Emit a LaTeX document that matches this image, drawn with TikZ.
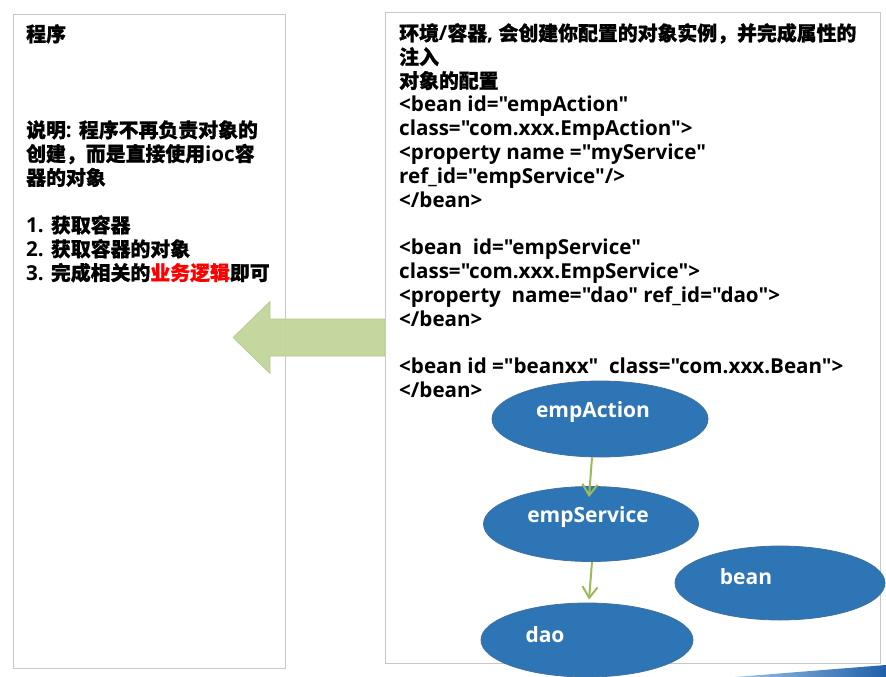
\documentclass[tikz,border=0pt]{standalone}
\usepackage{fontspec}
\setmainfont{Open Sans}[Ligatures=TeXOff]
\newfontfamily\cjkfont{Noto Sans CJK SC}[Scale=0.965, FakeBold=0.9]
\newcommand{\zh}[1]{{\cjkfont #1}}
\usetikzlibrary{shapes,arrows,positioning,calc,arrows.meta}

\definecolor{beanblue}{HTML}{2E75B6}
\definecolor{beanedge}{HTML}{41719C}
\definecolor{flowgreen}{HTML}{9BBB59}
\definecolor{bigarrow}{HTML}{C4D79F}
\definecolor{bigarrowedge}{HTML}{B3C98C}
\definecolor{boxgray}{HTML}{C8C8C8}
\definecolor{stripdark}{HTML}{1F5FA8}
\definecolor{striplight}{HTML}{9DC3E6}

\begin{document}
\begin{tikzpicture}[x=1pt,y=-1pt,
  panel/.style={draw=boxgray, line width=1pt, inner sep=0pt, anchor=north west},
  txt/.style={font=\bfseries\fontsize{20.6}{23.8}\selectfont, align=left, inner sep=0pt, anchor=north west},
  bean/.style={ellipse, fill=beanblue, draw=beanedge, line width=0.8pt, inner sep=0pt},
  beantext/.style={text=white, font=\bfseries\fontsize{21}{24}\selectfont, inner sep=0pt},
  flow/.style={draw=flowgreen, line width=2pt, -{Straight Barb[length=11pt,width=15pt]}}]
  \useasboundingbox (0,0) rectangle (886,677);

  % block arrow, container -> program
  \coordinate (mid) at (385,337.5);
  \filldraw[fill=bigarrow, draw=bigarrowedge, line width=0.6pt]
    (mid) ++(0,-18.5) -- ++(-115,0) -- ++(0,-17.5) -- ++(-37,36)
    -- ++(37,36) -- ++(0,-17.5) -- ++(115,0) -- cycle;

  % the two panels
  \node[panel, minimum width=272pt, minimum height=654pt] (prog) at (13,14) {};
  \node[panel, minimum width=495pt, minimum height=651pt] (ctr) at (385,12) {};

  % program side
  \node[txt] (ptitle) at (26,24) {\zh{程序}};
  \node[txt] (steps) at (26,120) {\zh{说明}: \zh{程序不再负责对象的}\\
    \zh{创建，而是直接使用}ioc\zh{容}\\
    \zh{器的对象}\\[23.8pt]
    1. \zh{获取容器}\\
    2. \zh{获取容器的对象}\\
    3. \zh{完成相关的}\textcolor{red}{\zh{业务逻辑}}\zh{即可}};

  % container side
  \node[txt] (conf) at (399,23) {\zh{环境}/\zh{容器}, \zh{会创建你配置的对象实例，并完成属性的}\\
    \zh{注入}\\
    \zh{对象的配置}\\
    <bean id="empAction"\\
    class="com.xxx.EmpAction">\\
    <property name ="myService"\\
    ref\_id="empService"/>\\
    </bean>\\[23.8pt]
    <bean\ \ id="empService"\\
    class="com.xxx.EmpService">\\
    <property\ \ name="dao" ref\_id="dao">\\
    </bean>\\[23.8pt]
    <bean id ="beanxx"\ \ class="com.xxx.Bean">\\
    </bean>};

  % beans
  \node[bean, minimum width=216pt, minimum height=76pt] (act) at (600,419) {};
  \node[bean, minimum width=215pt, minimum height=75pt] (srv) at (591,524) {};
  \node[bean, minimum width=210pt, minimum height=74pt] (bn) at (780,583) {};
  \node[bean, minimum width=212pt, minimum height=74pt] (dao) at (587,640) {};
  \node[beantext] (actlbl) at ([shift={(-7,-7)}]act.center) {empAction};
  \node[beantext] (srvlbl) at ([shift={(-3,-7)}]srv.center) {empService};
  \node[beantext] (bnlbl) at ([shift={(-34,-6)}]bn.center) {bean};
  \node[beantext] (daolbl) at ([shift={(-42,-5)}]dao.center) {dao};

  \draw[flow] ([xshift=-8pt]act.south) -- ([shift={(-2,11)}]srv.north);
  \draw[flow] ([xshift=1pt]srv.south) -- ([shift={(2,-3)}]dao.north);

  % slide strip
  \shade[left color=striplight, right color=stripdark]
    (735,677) -- (886,665) -- (886,677) -- cycle;
\end{tikzpicture}
\end{document}
